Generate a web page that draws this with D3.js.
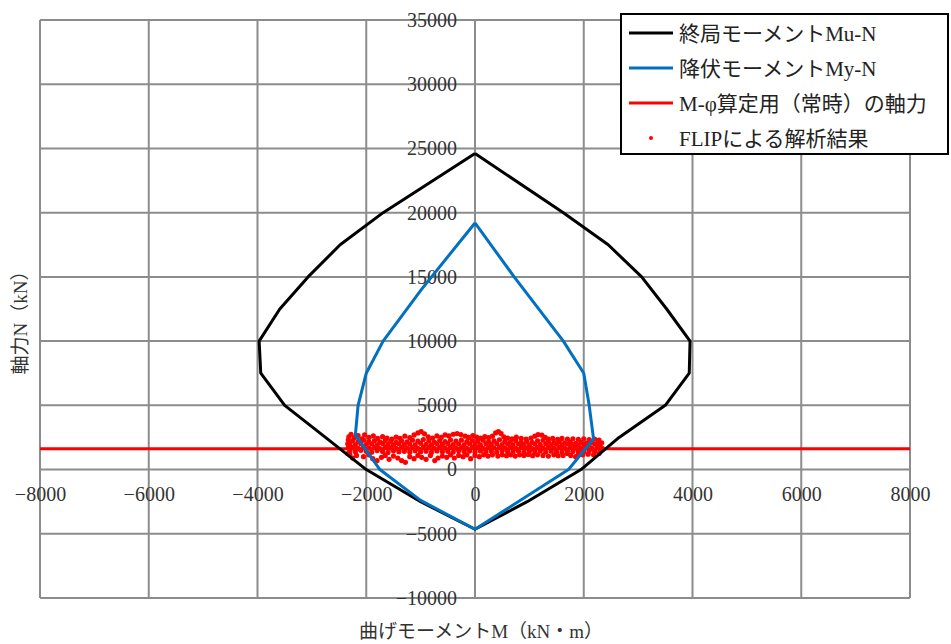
<!DOCTYPE html>
<html>
<head>
<meta charset="utf-8">
<script src="https://cdn.jsdelivr.net/npm/d3@7"></script>
<style>
  html, body { margin: 0; padding: 0; background: #fff; }
  svg { display: block; }
</style>
</head>
<body>
<svg id="chart" width="951" height="644"></svg>
<script>
// ---- Data ----
const xTicks = [-8000, -6000, -4000, -2000, 0, 2000, 4000, 6000, 8000];
const yTicks = [-10000, -5000, 0, 5000, 10000, 15000, 20000, 25000, 30000, 35000];

// 終局モーメント Mu-N
const ultM = [0, 1625, 2450, 3065, 3525, 3955, 3940, 3500, 2650, 1950, 960, 0, -1000, -2000, -2750, -3500, -3940, -3970, -3590, -3070, -2480, -1690, 0];
const ultN = [24600, 20000, 17500, 15000, 12500, 10000, 7500, 5000, 2500, 0, -2500, -4650, -2500, 0, 2500, 5000, 7500, 10000, 12500, 15000, 17500, 20000, 24600];

// 降伏モーメント My-N
const yldM = [0, 720, 1625, 2000, 2100, 2180, 1720, 0, -1000, -1750, -2200, -2150, -2000, -1690, -980, 0];
const yldN = [19200, 15000, 10000, 7500, 5000, 2400, 0, -4650, -2400, 0, 2700, 5000, 7500, 10000, 14050, 19200];

// M-φ算定用（常時）の軸力
const axialM = [-8000, 8000];
const axialN = [1620, 1620];

// FLIPによる解析結果 [M, N]
const flipResults = [
  // lower core row
  [-2300,1450],[-2200,1380],[-2100,1500],[-2000,1420],[-1900,1350],[-1800,1480],[-1700,1400],[-1600,1330],[-1500,1460],[-1400,1390],
  [-1300,1420],[-1200,1350],[-1100,1470],[-1000,1380],[-900,1430],[-800,1340],[-700,1450],[-600,1390],[-500,1420],[-400,1360],
  [-300,1470],[-200,1400],[-100,1440],[0,1370],[100,1450],[200,1390],[300,1420],[400,1350],[500,1460],[600,1400],
  [700,1380],[800,1440],[900,1360],[1000,1420],[1100,1390],[1200,1450],[1300,1370],[1400,1430],[1500,1400],[1600,1350],
  [1700,1460],[1800,1400],[1900,1430],[2000,1380],[2100,1450],[2200,1410],[2300,1440],
  // second core row
  [-2250,1700],[-2150,1650],[-2050,1730],[-1950,1680],[-1850,1720],[-1750,1640],[-1650,1740],[-1550,1690],[-1450,1660],[-1350,1730],
  [-1250,1680],[-1150,1710],[-1050,1650],[-950,1750],[-850,1700],[-750,1660],[-650,1720],[-550,1690],[-450,1740],[-350,1680],
  [-250,1710],[-150,1660],[-50,1730],[50,1700],[150,1650],[250,1720],[350,1690],[450,1750],[550,1670],[650,1710],
  [750,1650],[850,1720],[950,1680],[1050,1640],[1150,1710],[1250,1670],[1350,1730],[1450,1660],[1550,1700],[1650,1650],
  [1750,1720],[1850,1680],[1950,1630],[2050,1690],[2150,1660],[2250,1710],[2340,1650],
  // third core row
  [-2300,1980],[-2200,1920],[-2100,2010],[-2000,1950],[-1900,1990],[-1800,1900],[-1700,2020],[-1600,1960],[-1500,1930],[-1400,2010],
  [-1300,1950],[-1200,1980],[-1100,1920],[-1000,2040],[-900,1970],[-800,1930],[-700,2000],[-600,1960],[-500,2020],[-400,1950],
  [-300,1990],[-200,1930],[-100,2010],[0,1970],[100,1920],[200,2000],[300,1960],[400,2030],[500,1940],[600,1980],
  [700,1920],[800,1990],[900,1950],[1000,1910],[1100,1980],[1200,1940],[1300,2000],[1400,1930],[1500,1970],[1600,1920],
  [1700,1990],[1800,1950],[1900,1900],[2000,1960],[2100,1930],[2200,1980],[2300,1920],
  // upper core row
  [-2250,2240],[-2150,2170],[-2050,2290],[-1950,2150],[-1850,2230],[-1750,2130],[-1650,2260],[-1550,2190],[-1450,2110],[-1350,2240],
  [-1250,2160],[-1150,2290],[-1050,2210],[-950,2340],[-850,2230],[-750,2140],[-650,2260],[-550,2180],[-450,2300],[-350,2220],
  [-250,2290],[-150,2170],[-50,2250],[50,2200],[150,2280],[250,2160],[350,2230],[450,2320],[550,2200],[650,2140],
  [750,2240],[850,2110],[950,2190],[1050,2120],[1150,2230],[1250,2280],[1350,2150],[1450,2090],[1550,2170],[1650,2070],
  [1750,2130],[1850,2040],[1950,2110],[2050,2050],[2150,2120],[2250,2040],[2330,2080],
  // upper sparse points
  [-2320,2550],[-2280,2750],[-2220,2480],[-2150,2650],[-2080,2400],[-2030,2700],[-1950,2500],[-1870,2620],[-1790,2420],[-1700,2560],
  [-1620,2450],[-1530,2380],[-1450,2520],[-1380,2430],[-1290,2600],[-1200,2480],[-1120,2700],[-1050,2850],[-990,2950],[-930,2780],
  [-860,2550],[-780,2450],[-700,2620],[-620,2500],[-550,2700],[-480,2620],[-400,2750],[-330,2800],[-260,2720],[-180,2600],
  [-120,2500],[-40,2650],[30,2520],[100,2450],[180,2560],[250,2480],[320,2600],[380,2850],[430,2950],[480,2800],
  [530,2550],[600,2450],[680,2400],[760,2520],[850,2420],[940,2380],[1030,2450],[1100,2600],[1160,2720],[1230,2680],
  [1290,2500],[1350,2380],[1430,2420],[1520,2350],[1600,2420],[1700,2380],[1800,2400],[1900,2350],[2000,2400],[2100,2330],
  [2200,2380],[2280,2300],[-2330,2300],[-2340,2000],[-2330,1700],[-2340,1250],
  // lower sparse points
  [-2300,1150],[-2250,900],[-2180,1100],[-2050,1000],[-1950,1150],[-1880,850],[-1800,700],[-1720,950],[-1650,1100],[-1580,800],
  [-1500,1050],[-1420,900],[-1350,700],[-1280,560],[-1200,1000],[-1120,850],[-1050,1100],[-980,950],[-900,800],[-820,1100],
  [-740,700],[-680,900],[-600,1050],[-520,950],[-450,1150],[-380,900],[-300,1100],[-220,1000],[-150,1150],[-80,850],
  [0,1100],[80,1000],[160,1150],[240,1050],[320,1150],[420,1050],[500,1150],[580,1080],[660,1150],[740,1050],
  [820,1150],[900,1100],[980,1180],[1060,1080],[1150,1150],[1250,1100],[1350,1050],[1450,1150],[1530,1080],[1620,1100],
  [1700,1250],[1760,1100],[1850,1000],[1900,1200],[1980,1150],[2080,1200],[2180,1150],[2280,1250]
];

const legendLabels = ["終局モーメントMu-N", "降伏モーメントMy-N", "M-φ算定用（常時）の軸力", "FLIPによる解析結果"];
const xTitle = "曲げモーメントM（kN・m）";
const yTitle = "軸力N（kN）";

// ---- Layout ----
const svg = d3.select("#chart");
const x = d3.scaleLinear().domain([-8000, 8000]).range([40, 910]);
const y = d3.scaleLinear().domain([-10000, 35000]).range([598, 20]);
const gridColor = "#8c8c8c";
const numFont = "'Liberation Serif', 'Noto Sans CJK JP', serif";
const jpFont = "'Liberation Serif', 'Noto Sans CJK JP', sans-serif";

svg.append("rect").attr("width", 951).attr("height", 644).attr("fill", "#fff");

// grid
const grid = svg.append("g");
grid.selectAll("line.v").data(xTicks).enter().append("line")
  .attr("x1", d => x(d)).attr("x2", d => x(d))
  .attr("y1", y(35000)).attr("y2", y(-10000))
  .attr("stroke", gridColor).attr("stroke-width", 2);
grid.selectAll("line.h").data(yTicks).enter().append("line")
  .attr("x1", x(-8000)).attr("x2", x(8000))
  .attr("y1", d => y(d)).attr("y2", d => y(d))
  .attr("stroke", gridColor).attr("stroke-width", 2);

// axes (labels only, cross at 0)
const fmt = d3.format("d");
const xAxis = svg.append("g").attr("transform", `translate(0,${y(0)})`)
  .call(d3.axisBottom(x).tickValues(xTicks).tickSize(0).tickPadding(17).tickFormat(d => fmt(d).replace("-", "−")));
const yAxis = svg.append("g").attr("transform", `translate(${x(0)},0)`)
  .call(d3.axisLeft(y).tickValues(yTicks).tickSize(0).tickPadding(18).tickFormat(d => fmt(d).replace("-", "−")));
[xAxis, yAxis].forEach(a => {
  a.select(".domain").remove();
  a.selectAll("text").attr("font-family", numFont).attr("font-size", 20).attr("fill", "#333");
});

// series
const line = d3.line().x(d => x(d[0])).y(d => y(d[1]));

svg.append("g").selectAll("circle").data(flipResults).enter().append("circle")
  .attr("cx", d => x(d[0])).attr("cy", d => y(d[1])).attr("r", 2.6).attr("fill", "#ff0000");

svg.append("path").datum(d3.zip(axialM, axialN)).attr("d", line)
  .attr("fill", "none").attr("stroke", "#ff0000").attr("stroke-width", 3);
svg.append("path").datum(d3.zip(ultM, ultN)).attr("d", line)
  .attr("fill", "none").attr("stroke", "#000").attr("stroke-width", 3).attr("stroke-linejoin", "round");
svg.append("path").datum(d3.zip(yldM, yldN)).attr("d", line)
  .attr("fill", "none").attr("stroke", "#0070c0").attr("stroke-width", 3).attr("stroke-linejoin", "round");

// axis titles
svg.append("text").attr("x", 481).attr("y", 638).attr("text-anchor", "middle")
  .attr("font-family", jpFont).attr("font-size", 19).attr("fill", "#333").text(xTitle);
svg.append("text").attr("transform", "translate(27,318) rotate(-90)").attr("text-anchor", "middle")
  .attr("font-family", jpFont).attr("font-size", 19).attr("fill", "#333").text(yTitle);

// legend
const lg = svg.append("g");
lg.append("rect").attr("x", 621).attr("y", 14).attr("width", 327).attr("height", 140)
  .attr("fill", "#fff").attr("stroke", "#000").attr("stroke-width", 2);
const legendStyles = [
  {type: "line", color: "#000"},
  {type: "line", color: "#0070c0"},
  {type: "line", color: "#ff0000"},
  {type: "dot", color: "#ff0000"}
];
const rowY = [33, 68, 103, 138];
legendLabels.forEach((lab, i) => {
  const s = legendStyles[i];
  if (s.type === "line") {
    lg.append("line").attr("x1", 629).attr("x2", 673).attr("y1", rowY[i]).attr("y2", rowY[i])
      .attr("stroke", s.color).attr("stroke-width", 3);
  } else {
    lg.append("circle").attr("cx", 651).attr("cy", rowY[i]).attr("r", 2).attr("fill", s.color);
  }
  lg.append("text").attr("x", 679).attr("y", rowY[i]).attr("dy", "0.36em")
    .attr("font-family", jpFont).attr("font-size", 21).attr("fill", "#222").text(lab);
});
</script>
</body>
</html>
